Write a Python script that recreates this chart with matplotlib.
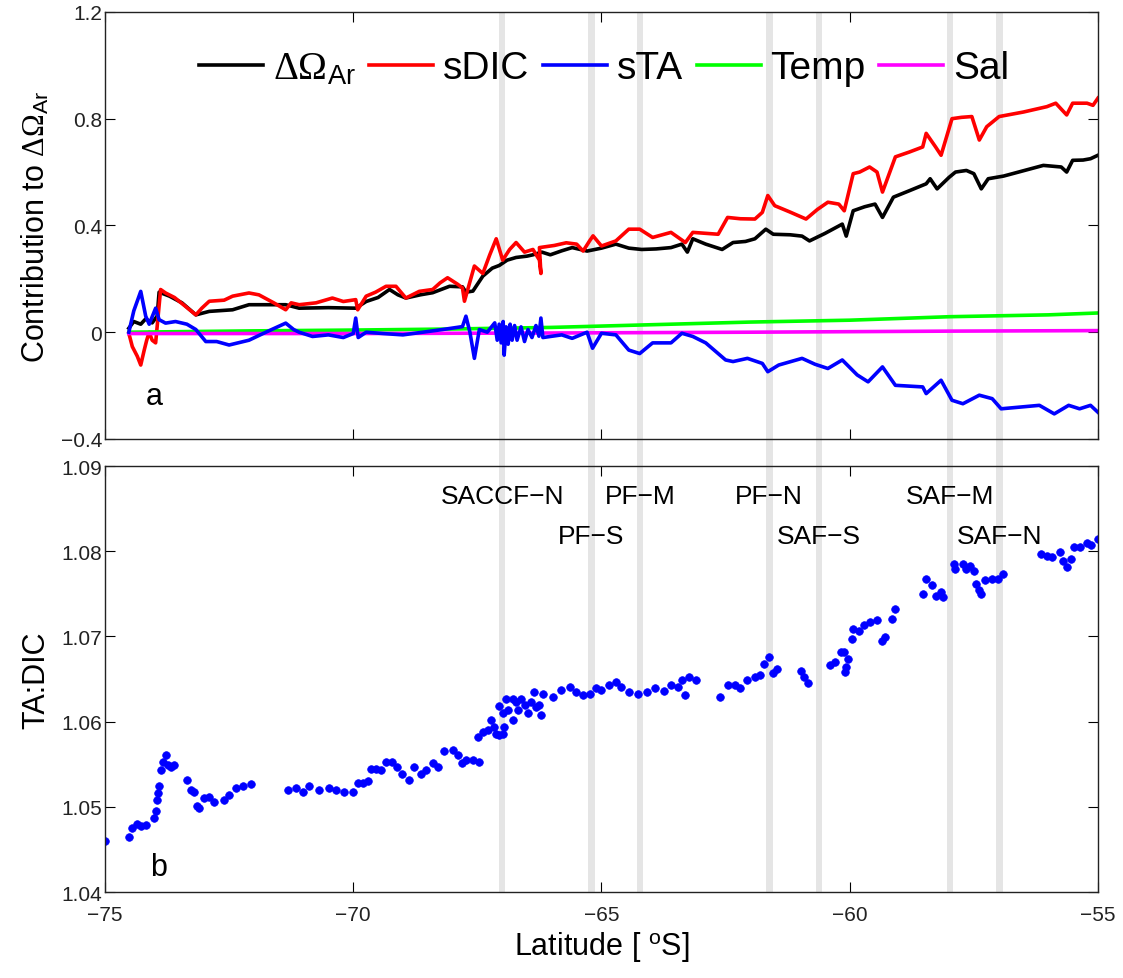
import matplotlib
matplotlib.use('Agg')
import matplotlib.pyplot as plt
import matplotlib.transforms as mtransforms
from matplotlib.patches import Rectangle

plt.rcParams['font.family'] = ['Liberation Sans', 'DejaVu Sans']
plt.rcParams['mathtext.fontset'] = 'custom'
plt.rcParams['mathtext.rm'] = 'Liberation Serif'
plt.rcParams['mathtext.sf'] = 'Liberation Sans'
plt.rcParams['mathtext.it'] = 'Liberation Serif:italic'

# ---- panel a: contributions to delta Omega_Ar ----
lat_omega = [-74.52, -74.42, -74.28, -74.18, -74.05, -73.95, -73.91, -73.7, -73.45, -73.17,
             -72.90, -72.43, -72.10, -71.36, -71.09, -70.5, -69.95, -69.74, -69.5, -69.27,
             -69.1, -68.94, -68.65, -68.40, -68.06, -67.80, -67.73, -67.59, -67.39, -67.2,
             -67.06, -66.9, -66.72, -66.5, -66.38, -66.2, -66.03, -65.80, -65.59, -65.29,
             -65.0, -64.71, -64.45, -64.19, -63.90, -63.60, -63.38, -63.27, -63.16, -62.9,
             -62.57, -62.35, -62.1, -61.91, -61.69, -61.54, -61.2, -60.96, -60.81, -60.5,
             -60.15, -60.07, -59.93, -59.7, -59.49, -59.34, -59.12, -58.8, -58.46, -58.38,
             -58.24, -58.0, -57.87, -57.65, -57.50, -57.35, -57.21, -56.9, -56.5, -56.10,
             -55.74, -55.63, -55.51, -55.30, -55.15, -55.0]
d_omega = [0.015, 0.04, 0.03, 0.05, 0.035, 0.06, 0.15, 0.135, 0.11, 0.065,
           0.078, 0.084, 0.103, 0.103, 0.09, 0.092, 0.09, 0.115, 0.13, 0.16,
           0.14, 0.128, 0.14, 0.148, 0.172, 0.17, 0.15, 0.154, 0.21, 0.24,
           0.25, 0.27, 0.28, 0.285, 0.29, 0.30, 0.29, 0.305, 0.317, 0.304,
           0.315, 0.33, 0.315, 0.31, 0.312, 0.317, 0.33, 0.30, 0.35, 0.33,
           0.31, 0.336, 0.34, 0.35, 0.386, 0.367, 0.365, 0.36, 0.342, 0.37,
           0.405, 0.36, 0.455, 0.47, 0.48, 0.43, 0.506, 0.53, 0.556, 0.575,
           0.537, 0.58, 0.60, 0.606, 0.594, 0.537, 0.575, 0.585, 0.605, 0.625,
           0.619, 0.60, 0.644, 0.645, 0.65, 0.663]

lat_sdic = [-74.52, -74.45, -74.35, -74.28, -74.21, -74.16, -74.11, -74.05, -73.98, -73.88,
            -73.78, -73.6, -73.4, -73.17, -73.05, -72.90, -72.6, -72.43, -72.10, -71.9,
            -71.6, -71.36, -71.25, -71.09, -70.75, -70.42, -70.2, -69.95, -69.91, -69.74,
            -69.55, -69.34, -69.14, -68.94, -68.67, -68.40, -68.25, -68.10, -67.90, -67.80,
            -67.76, -67.56, -67.39, -67.25, -67.12, -66.99, -66.85, -66.72, -66.55, -66.38,
            -66.25, -66.22, -66.25, -65.95, -65.71, -65.5, -65.37, -65.24, -65.17, -65.0,
            -64.71, -64.45, -64.23, -63.97, -63.60, -63.31, -63.16, -62.65, -62.46, -62.2,
            -61.91, -61.76, -61.65, -61.51, -61.2, -60.88, -60.65, -60.44, -60.22, -60.11,
            -59.93, -59.80, -59.60, -59.45, -59.34, -59.08, -58.8, -58.53, -58.46, -58.27,
            -58.16, -57.94, -57.75, -57.54, -57.39, -57.24, -56.99, -56.5, -56.03, -55.85,
            -55.63, -55.51, -55.22, -55.10, -55.0]
sdic = [-0.004, -0.054, -0.09, -0.123, -0.067, -0.03, 0.0, -0.03, -0.04, 0.16,
        0.147, 0.13, 0.10, 0.065, 0.09, 0.116, 0.12, 0.135, 0.147, 0.14,
        0.11, 0.084, 0.11, 0.103, 0.11, 0.128, 0.115, 0.122, 0.084, 0.135,
        0.15, 0.172, 0.172, 0.128, 0.153, 0.16, 0.185, 0.204, 0.18, 0.166,
        0.116, 0.248, 0.22, 0.29, 0.35, 0.27, 0.31, 0.336, 0.30, 0.31,
        0.27, 0.22, 0.317, 0.325, 0.335, 0.33, 0.304, 0.342, 0.361, 0.323,
        0.342, 0.386, 0.386, 0.355, 0.374, 0.336, 0.374, 0.367, 0.43, 0.425,
        0.424, 0.449, 0.512, 0.474, 0.45, 0.424, 0.46, 0.487, 0.48, 0.455,
        0.594, 0.60, 0.619, 0.60, 0.525, 0.657, 0.675, 0.694, 0.745, 0.694,
        0.663, 0.80, 0.805, 0.808, 0.72, 0.77, 0.808, 0.825, 0.845, 0.858,
        0.814, 0.858, 0.858, 0.85, 0.877]

lat_sta = [-74.52, -74.42, -74.28, -74.18, -74.11, -73.98, -73.91, -73.78, -73.58, -73.35,
           -73.17, -72.97, -72.75, -72.50, -72.10, -71.76, -71.36, -71.20, -71.09, -70.82,
           -70.5, -70.2, -70.0, -69.95, -69.90, -69.74, -69.4, -69.0, -68.6, -68.2,
           -67.80, -67.73, -67.65, -67.56, -67.46, -67.30, -67.15, -67.10, -67.06, -67.02,
           -66.98, -66.96, -66.92, -66.88, -66.84, -66.80, -66.75, -66.70, -66.62, -66.55,
           -66.48, -66.40, -66.32, -66.26, -66.22, -66.18, -66.03, -65.80, -65.59, -65.29,
           -65.18, -65.0, -64.71, -64.45, -64.23, -63.97, -63.60, -63.38, -63.16, -62.9,
           -62.50, -62.35, -62.06, -61.76, -61.65, -61.43, -60.96, -60.7, -60.44, -60.15,
           -59.85, -59.63, -59.34, -59.08, -58.53, -58.46, -58.16, -57.94, -57.72, -57.39,
           -57.13, -56.95, -56.18, -55.88, -55.59, -55.37, -55.15, -55.0]
sta = [0.0, 0.08, 0.153, 0.06, 0.03, 0.09, 0.047, 0.034, 0.04, 0.03,
       0.01, -0.035, -0.035, -0.048, -0.03, 0.0, 0.034, 0.01, 0.0, -0.016,
       -0.01, -0.02, -0.005, 0.053, -0.02, 0.0, -0.005, -0.01, 0.0, 0.01,
       0.021, 0.06, 0.0, -0.098, 0.01, 0.0, 0.035, -0.03, 0.03, -0.04,
       0.04, -0.086, 0.02, -0.045, 0.03, -0.03, 0.025, -0.03, 0.02, -0.035,
       0.01, -0.02, 0.025, -0.015, 0.053, -0.02, -0.016, -0.01, -0.023, 0.0,
       -0.06, -0.004, -0.01, -0.067, -0.08, -0.04, -0.04, -0.004, -0.016, -0.04,
       -0.104, -0.11, -0.098, -0.117, -0.148, -0.123, -0.098, -0.12, -0.136, -0.104,
       -0.16, -0.186, -0.13, -0.199, -0.205, -0.23, -0.18, -0.255, -0.268, -0.236,
       -0.249, -0.287, -0.274, -0.306, -0.274, -0.287, -0.274, -0.30]

lat_temp = [-74.52, -72.0, -70.0, -68.0, -66.0, -64.0, -62.0, -60.0, -58.0, -56.0, -55.0]
temp = [0.0, 0.005, 0.008, 0.012, 0.018, 0.028, 0.038, 0.045, 0.058, 0.065, 0.072]
lat_sal = [-74.52, -70.0, -66.0, -62.0, -58.0, -55.0]
sal = [-0.005, -0.005, -0.003, 0.0, 0.004, 0.006]

# ---- panel b: TA:DIC ratio ----
lat_ratio = [-74.99, -74.52, -74.45, -74.35, -74.28, -74.18, -74.01, -73.98, -73.96, -73.94,
             -73.91, -73.88, -73.84, -73.78, -73.74, -73.68, -73.61, -73.34, -73.27, -73.20,
             -73.14, -73.10, -73.00, -72.90, -72.80, -72.60, -72.50, -72.37, -72.23, -72.06,
             -71.32, -71.16, -71.02, -70.89, -70.69, -70.48, -70.35, -70.18, -70.01, -69.91,
             -69.81, -69.71, -69.64, -69.54, -69.44, -69.34, -69.21, -69.11, -69.01, -68.87,
             -68.77, -68.64, -68.53, -68.40, -68.30, -68.17, -68.00, -67.90, -67.80, -67.73,
             -67.59, -67.46, -67.49, -67.39, -67.29, -67.22, -67.16, -67.12, -67.06, -66.99,
             -66.96, -67.06, -66.99, -66.89, -66.92, -66.79, -66.72, -66.79, -66.69, -66.62,
             -66.55, -66.49, -66.42, -66.32, -66.25, -66.22, -66.35, -66.18, -65.98, -65.81,
             -65.64, -65.51, -65.38, -65.24, -65.11, -65.00, -64.85, -64.71, -64.60, -64.45,
             -64.26, -64.08, -63.93, -63.75, -63.60, -63.46, -63.38, -63.31, -63.24, -63.09,
             -62.61, -62.46, -62.32, -62.21, -62.06, -61.91, -61.80, -61.73, -61.62, -61.54,
             -61.47, -60.99, -60.92, -60.85, -60.40, -60.29, -60.18, -60.11, -60.04, -60.07,
             -60.09, -59.96, -59.93, -59.82, -59.71, -59.60, -59.45, -59.34, -59.28, -59.15,
             -59.08, -58.53, -58.46, -58.35, -58.27, -58.16, -58.12, -57.90, -57.87, -57.72,
             -57.65, -57.57, -57.50, -57.46, -57.39, -57.35, -57.28, -57.13, -57.02, -56.91,
             -56.14, -56.03, -55.92, -55.77, -55.70, -55.63, -55.55, -55.48, -55.37, -55.22,
             -55.15, -55.00]
ta_dic = [1.0460, 1.0465, 1.0475, 1.0480, 1.0478, 1.0479, 1.0487, 1.0495, 1.0508, 1.0516,
          1.0524, 1.0543, 1.0553, 1.0561, 1.0549, 1.0547, 1.0549, 1.0532, 1.0520, 1.0518,
          1.0501, 1.0499, 1.0510, 1.0512, 1.0506, 1.0508, 1.0514, 1.0522, 1.0524, 1.0527,
          1.0520, 1.0522, 1.0518, 1.0524, 1.0520, 1.0522, 1.0520, 1.0518, 1.0518, 1.0528,
          1.0528, 1.0530, 1.0545, 1.0545, 1.0543, 1.0553, 1.0553, 1.0547, 1.0538, 1.0532,
          1.0547, 1.0538, 1.0543, 1.0551, 1.0547, 1.0565, 1.0567, 1.0561, 1.0551, 1.0555,
          1.0555, 1.0553, 1.0582, 1.0588, 1.0590, 1.0602, 1.0594, 1.0586, 1.0584, 1.0586,
          1.0594, 1.0618, 1.0610, 1.0614, 1.0627, 1.0627, 1.0623, 1.0602, 1.0614, 1.0627,
          1.0619, 1.0610, 1.0623, 1.0617, 1.0619, 1.0608, 1.0635, 1.0633, 1.0629, 1.0637,
          1.0641, 1.0635, 1.0631, 1.0633, 1.0639, 1.0637, 1.0643, 1.0647, 1.0641, 1.0635,
          1.0633, 1.0635, 1.0639, 1.0636, 1.0643, 1.0641, 1.0649, 1.0631, 1.0653, 1.0649,
          1.0629, 1.0643, 1.0643, 1.0639, 1.0649, 1.0653, 1.0655, 1.0668, 1.0676, 1.0657,
          1.0662, 1.0660, 1.0653, 1.0645, 1.0666, 1.0670, 1.0682, 1.0682, 1.0674, 1.0664,
          1.0658, 1.0697, 1.0709, 1.0707, 1.0713, 1.0717, 1.0719, 1.0695, 1.0699, 1.0721,
          1.0732, 1.0750, 1.0768, 1.0760, 1.0748, 1.0752, 1.0746, 1.0785, 1.0779, 1.0785,
          1.0779, 1.0783, 1.0777, 1.0762, 1.0754, 1.0750, 1.0766, 1.0768, 1.0768, 1.0773,
          1.0797, 1.0795, 1.0793, 1.0799, 1.0788, 1.0782, 1.0791, 1.0805, 1.0805, 1.0810,
          1.0807, 1.0814]

# fronts (grey bars) and their labels
front_names = ['SACCF\u2212N', 'PF\u2212S', 'PF\u2212M', 'PF\u2212N', 'SAF\u2212S', 'SAF\u2212M', 'SAF\u2212N']
front_lat = [-67.0, -65.2, -64.22, -61.62, -60.62, -57.98, -56.98]
front_row = [0, 1, 0, 0, 1, 0, 1]

fig = plt.figure(figsize=(11.23, 9.79), dpi=100)
ax1 = fig.add_axes([0.0935, 0.5506, 0.8842, 0.4362])
ax2 = fig.add_axes([0.0935, 0.0878, 0.8842, 0.4351])
for ax in (ax1, ax2):
    ax.set_facecolor('none')
    ax.set_xlim(-75, -55)
    ax.set_xticks([-75, -70, -65, -60, -55])
    ax.tick_params(direction='in', top=True, right=True, length=7, width=0.8,
                   labelsize=15, pad=2, labelcolor='#222222')
    ax.tick_params(axis='x', pad=9)
    for s in ax.spines.values():
        s.set_linewidth(1.0)
        s.set_color('#222222')

# grey bars spanning both panels
trans = mtransforms.blended_transform_factory(ax2.transData, fig.transFigure)
for f in front_lat:
    fig.patches.append(Rectangle((f - 0.065, 0.0878), 0.13, 0.9867 - 0.0878,
                                 transform=trans, facecolor='#e5e5e5',
                                 edgecolor='none', zorder=-1))

h_om, = ax1.plot(lat_omega, d_omega, color='black', lw=2.6)
h_dic, = ax1.plot(lat_sdic, sdic, color='red', lw=2.6)
h_tmp, = ax1.plot(lat_temp, temp, color='#00ff00', lw=2.6)
h_sal, = ax1.plot(lat_sal, sal, color='magenta', lw=2.6)
h_ta, = ax1.plot(lat_sta, sta, color='blue', lw=2.6)

ax1.set_ylim(-0.4, 1.2)
ax1.set_yticks([-0.4, 0, 0.4, 0.8, 1.2])
ax1.set_yticklabels(['\u22120.4', '0', '0.4', '0.8', '1.2'])
ax1.tick_params(labelbottom=False)
ax1.set_ylabel(r'Contribution to $\Delta\Omega_{\mathsf{Ar}}$', fontsize=22)
ax1.yaxis.set_label_coords(-0.054, 0.5)
ax1.text(-74.0, -0.24, 'a', fontsize=22, ha='center', va='center')
ax1.legend([h_om, h_dic, h_ta, h_tmp, h_sal],
           [r'$\Delta\Omega_{\mathsf{Ar}}$', 'sDIC', 'sTA', 'Temp', 'Sal'],
           loc='center', bbox_to_anchor=(0.5025, 0.868), ncol=5, frameon=False,
           fontsize=28, handlelength=1.65, handletextpad=0.25, columnspacing=0.35,
           borderaxespad=0)

ax2.plot(lat_ratio, ta_dic, 'o', color='blue', ms=5.5, mec='blue', mew=0.5)
ax2.set_ylim(1.04, 1.09)
ax2.set_yticks([1.04, 1.05, 1.06, 1.07, 1.08, 1.09])
ax2.set_yticklabels(['1.04', '1.05', '1.06', '1.07', '1.08', '1.09'])
ax2.set_ylabel('TA:DIC', fontsize=22)
ax2.yaxis.set_label_coords(-0.054, 0.5)
ax2.set_xlabel(r'Latitude [ $^{\mathsf{o}}$S]', fontsize=22, labelpad=4)
ax2.text(-73.93, 1.0429, 'b', fontsize=22, ha='center', va='center')
row_y = [1.0865, 1.0818]
for name, f, r in zip(front_names, front_lat, front_row):
    ax2.text(f, row_y[r], name, fontsize=19, ha='center', va='center')

fig.savefig('out.png', dpi=100)
